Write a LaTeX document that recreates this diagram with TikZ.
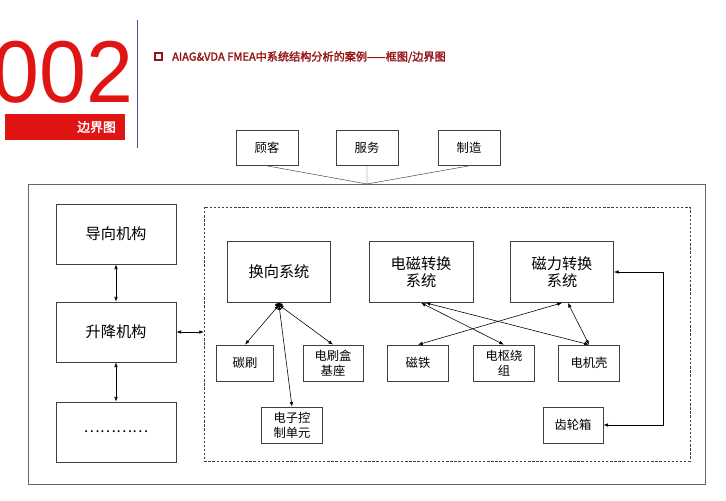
\documentclass[tikz,border=0pt]{standalone}
\usepackage{fontspec}
\setmainfont{Noto Sans CJK SC}
\newfontfamily\cjkb[FakeBold=2]{Noto Sans CJK SC}
\newfontfamily\numfont{Liberation Sans}
\usetikzlibrary{arrows.meta}
\tikzset{
  box/.style={draw=black!75, line width=0.6pt, minimum width=#1, inner sep=0pt, align=center, font=\fontsize{13}{15}\selectfont},
  sbox/.style={draw=black!75, line width=0.6pt, inner sep=0pt, align=center, font=\fontsize{10.5}{12.5}\selectfont},
  link/.style={line width=0.5pt, {Latex[length=4pt,width=3pt]}-{Latex[length=4pt,width=3pt]}},
}
\definecolor{titlered}{RGB}{225,20,20}
\definecolor{darkred}{RGB}{150,20,20}
\begin{document}
\begin{tikzpicture}[x=0.03cm, y=-0.03cm]
  \useasboundingbox (0,0) rectangle (726,500);
  % header
  \node[anchor=west, text=titlered, inner sep=0pt, xscale=1.2, yscale=1.25, font=\numfont\fontsize{60}{60}\selectfont] (num) at (-8,72) {002};
  \fill[titlered] (5,114) rectangle (125,140);
  \node[text=white, font=\cjkb\fontsize{11}{13}\selectfont, anchor=east] (tag) at (120,127) {边界图};
  \draw[blue!40!gray, line width=0.6pt] (137,20) -- (137,148);
  \draw[darkred, line width=1pt] (155,53) rectangle (162,60);
  \node[anchor=west, text=darkred, font=\cjkb\fontsize{9.5}{11}\selectfont] (title) at (168,57) {AIAG\&VDA FMEA中系统结构分析的案例——框图/边界图};
  % outside elements
  \node[sbox, minimum width=62*0.03cm, minimum height=35*0.03cm] (cust) at (267,148) {顾客};
  \node[sbox, minimum width=62*0.03cm, minimum height=35*0.03cm] (serv) at (367,148) {服务};
  \node[sbox, minimum width=62*0.03cm, minimum height=35*0.03cm] (manu) at (469,148) {制造};
  \coordinate (join) at (367,184);
  \draw[black!75] (cust.south) -- (join) (serv.south) -- (join) (manu.south) -- (join);
  % boundary
  \draw[black!60, line width=0.8pt] (28,184) rectangle (705,484);
  \draw[black!75, dashed, dash pattern=on 2pt off 1.5pt] (204,207) rectangle (690,461);
  \coordinate (bnd) at (204,332);
  % left column
  \node[box, minimum width=120*0.03cm, minimum height=60*0.03cm] (guide) at (116,234) {导向机构};
  \node[box, minimum width=120*0.03cm, minimum height=60*0.03cm] (lift) at (116,332) {升降机构};
  \node[box, minimum width=120*0.03cm, minimum height=60*0.03cm] (more) at (116,432) {…………};
  \draw[link] (guide) -- (lift);
  \draw[link] (lift) -- (more);
  \draw[link] (lift.east) -- (bnd);
  % systems
  \node[box, minimum width=103*0.03cm, minimum height=61*0.03cm] (comm) at (279,272) {换向系统};
  \node[box, minimum width=104*0.03cm, minimum height=61*0.03cm] (emc) at (421,272) {电磁转换\\系统};
  \node[box, minimum width=103*0.03cm, minimum height=61*0.03cm] (mfc) at (562,272) {磁力转换\\系统};
  % parts
  \node[sbox, minimum width=57*0.03cm, minimum height=36*0.03cm] (brush) at (245,363) {碳刷};
  \node[sbox, minimum width=60*0.03cm, minimum height=36*0.03cm] (holder) at (333,363) {电刷盒\\基座};
  \node[sbox, minimum width=61*0.03cm, minimum height=36*0.03cm] (ecu) at (292,425) {电子控\\制单元};
  \node[sbox, minimum width=61*0.03cm, minimum height=36*0.03cm] (magnet) at (418,363) {磁铁};
  \node[sbox, minimum width=61*0.03cm, minimum height=36*0.03cm] (arm) at (504,363) {电枢绕\\组};
  \node[sbox, minimum width=61*0.03cm, minimum height=36*0.03cm] (house) at (589,363) {电机壳};
  \node[sbox, minimum width=60*0.03cm, minimum height=36*0.03cm] (gear) at (573,425) {齿轮箱};
  % links
  \coordinate (hub) at (279,305);
  \fill (hub) ellipse (4 and 2);
  \draw[link] (hub) -- (brush.north);
  \draw[link] (hub) -- (holder.north);
  \draw[link] (hub) -- (ecu.north);
  \draw[link] (emc.south) -- (arm.north);
  \draw[link] ([xshift=4]emc.south) -- (house.north);
  \draw[link] (mfc.south) -- (magnet.north);
  \draw[link] ([xshift=5]mfc.south) -- (house.north);
  \draw[link] (mfc.east) -- (663,272) -- (663,425) -- (gear.east);
\end{tikzpicture}
\end{document}
